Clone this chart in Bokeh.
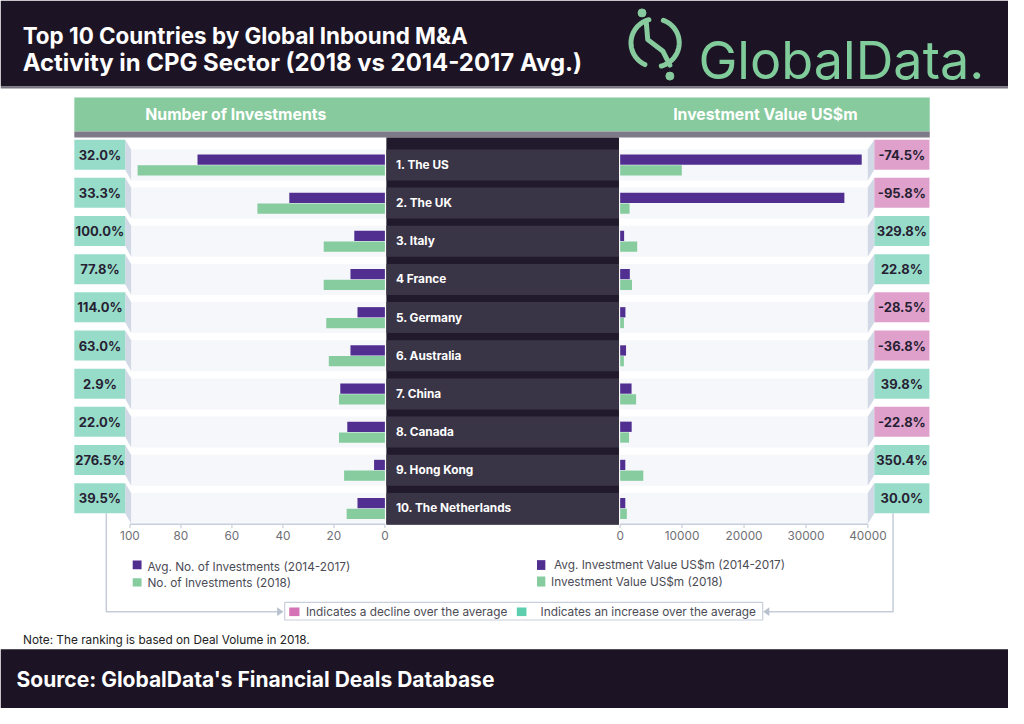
import numpy as np
from bokeh.plotting import figure
from bokeh.models import Range1d
from bokeh.core.properties import value
from bokeh.embed import file_html
from bokeh.resources import INLINE

# ---------------- data ----------------
countries = ["1.  The US", "2. The UK", "3.  Italy", "4  France", "5.  Germany",
             "6.  Australia", "7.  China", "8.  Canada", "9.  Hong Kong",
             "10.  The Netherlands"]
avg_count = [73.5, 37.5, 12.0, 13.5, 10.75, 13.5, 17.5, 14.75, 4.25, 10.75]
count_2018 = [97, 50, 24, 24, 23, 22, 18, 18, 16, 15]
avg_value = [39000, 36200, 640, 1560, 850, 950, 1840, 1860, 830, 830]
value_2018 = [9950, 1520, 2750, 1915, 608, 600, 2572, 1436, 3738, 1080]
count_change = ["32.0%", "33.3%", "100.0%", "77.8%", "114.0%", "63.0%", "2.9%",
                "22.0%", "276.5%", "39.5%"]
value_change = ["-74.5%", "-95.8%", "329.8%", "22.8%", "-28.5%", "-36.8%", "39.8%",
                "-22.8%", "350.4%", "30.0%"]
count_ticks = [100, 80, 60, 40, 20, 0]
value_ticks = [0, 10000, 20000, 30000, 40000]

title_lines = ["Top 10 Countries by Global Inbound M&A",
               "Activity in CPG Sector (2018 vs 2014-2017 Avg.)"]
left_header = "Number of Investments"
right_header = "Investment Value US$m"
legend_left = ["Avg. No. of Investments (2014-2017)", "No. of Investments (2018)"]
legend_right = ["Avg. Investment Value US$m (2014-2017)", "Investment Value US$m (2018)"]
legend_change = ["Indicates a decline over the average", "Indicates an increase over the average"]
note = "Note: The ranking is based on Deal Volume in 2018."
source = "Source: GlobalData's Financial Deals Database"

# ---------------- styles ----------------
DARK = "#1c1424"
PURPLE = "#502f90"
GREEN = "#86cc9f"
TEAL_BOX = "#97dcc9"
PINK_BOX = "#dfa1cb"
HEAD_GREEN = "#86ca9d"
FONT = value("Inter")

CW, CH = 1008, 708            # canvas
RW, RH = 1024, 724            # design space
K = CW / RW


def fs(px):
    return f"{px * K:.1f}px"


# layout (design space)
L0, LS = 390.5, 2.59          # left scale: zero position and px per unit
R0, RS = 629.5, 0.006292      # right scale
Y0, PITCH = 168.2, 39.03      # row centre and row pitch

p = figure(width=CW, height=CH, output_backend="svg", toolbar_location=None,
           x_range=Range1d(0, RW), y_range=Range1d(RH, 0),
           x_axis_type=None, y_axis_type=None, min_border=0)
p.xgrid.visible = False
p.ygrid.visible = False
p.outline_line_color = None
p.background_fill_color = "white"
p.border_fill_color = "white"
p.extra_x_ranges = {"L": Range1d(L0 / LS, (L0 - RW) / LS),
                    "R": Range1d(-R0 / RS, (RW - R0) / RS)}
p.extra_y_ranges = {"rows": Range1d((RH - Y0) / PITCH, -Y0 / PITCH)}

n = len(countries)
idx = list(range(n))
yc = [Y0 + PITCH * i for i in idx]

# ---------------- header ----------------
p.quad(left=[0], right=[RW], top=[0], bottom=[88], fill_color=DARK, line_color=None)
p.quad(left=[0], right=[RW], top=[88], bottom=[90], fill_color="#7a7582", line_color=None)
p.text(x=[22.5], y=[36], text=[title_lines[0]], text_font=FONT,
       text_font_size=fs(22.8), text_font_style="bold", text_color="white",
       text_baseline="alphabetic", text_align="left")
p.text(x=[22.5], y=[63.5], text=[title_lines[1]], text_font=FONT,
       text_font_size=fs(24.3), text_font_style="bold", text_color="white",
       text_baseline="alphabetic", text_align="left")

# logo
cx, cy, r = 665.0, 43.3, 24.5
a1 = np.linspace(np.radians(105), np.radians(245), 40)
a2 = np.linspace(np.radians(-75), np.radians(70), 40)
p.multi_line(xs=[list(cx + r * np.cos(a1)), list(cx + r * np.cos(a2))],
             ys=[list(cy - r * np.sin(a1)), list(cy - r * np.sin(a2))],
             line_color=HEAD_GREEN, line_width=5, line_cap="round")
p.line(x=[656, 657.5, 673, 680], y=[22, 40, 52, 66], line_color=HEAD_GREEN,
       line_width=5, line_cap="round", line_join="round")
p.scatter(x=[651.7, 680], y=[12.7, 77.3], size=8, color=HEAD_GREEN)
p.text(x=[709], y=[61], text=["GlobalData."], text_font=FONT, text_font_size=fs(53),
       text_color="#80cc9b", text_baseline="alphabetic")

# column header bar
p.quad(left=[75], right=[944], top=[99.3], bottom=[134], fill_color=HEAD_GREEN, line_color=None)
p.quad(left=[75], right=[944], top=[134], bottom=[140], fill_color="#7f7a88", line_color=None)
p.text(x=[239, 777], y=[117, 117], text=[left_header, right_header], text_font=FONT,
       text_font_size=fs(16), text_font_style="bold", text_color="white",
       text_align="center", text_baseline="middle")

# ---------------- row backgrounds ----------------
top_b = [c - 15.9 for c in yc]
bot_b = [c + 15.8 for c in yc]
p.quad(left=[132.7] * n, right=[390.5] * n, top=top_b, bottom=bot_b,
       fill_color="#f6f7fb", line_color=None)
p.quad(left=[629.5] * n, right=[881] * n, top=top_b, bottom=bot_b,
       fill_color="#f6f7fb", line_color=None)

# 3D side pieces of change boxes
box_t = [c - 25.9 for c in yc]
box_b = [c + 4.8 for c in yc]
p.patches(xs=[[126.7, 132.7, 132.7, 126.7] for _ in idx],
          ys=[[box_t[i], top_b[i], bot_b[i], box_b[i]] for i in idx],
          fill_color="#d2d9e6", line_color=None)
p.patches(xs=[[881, 887.7, 887.7, 881] for _ in idx],
          ys=[[top_b[i], box_t[i], box_b[i], bot_b[i]] for i in idx],
          fill_color="#d2d9e6", line_color=None)

# ---------------- bars ----------------
off, bh = 5.5 / PITCH, 10.5 / PITCH
p.hbar(y=[i - off for i in idx], height=bh, left=0, right=avg_count,
       fill_color=PURPLE, line_color=None, x_range_name="L", y_range_name="rows")
p.hbar(y=[i + off for i in idx], height=bh, left=0, right=count_2018,
       fill_color=GREEN, line_color=None, x_range_name="L", y_range_name="rows")
p.hbar(y=[i - off for i in idx], height=bh, left=0, right=avg_value,
       fill_color=PURPLE, line_color=None, x_range_name="R", y_range_name="rows")
p.hbar(y=[i + off for i in idx], height=bh, left=0, right=value_2018,
       fill_color=GREEN, line_color=None, x_range_name="R", y_range_name="rows")

# ---------------- centre panel ----------------
p.quad(left=[392], right=[628.3], top=[140], bottom=[536], fill_color="#211a2c", line_color=None)
p.quad(left=[392] * n, right=[628.3] * n, top=top_b, bottom=bot_b,
       fill_color="#3a3546", line_color=None)
p.text(x=[401.7] * n, y=yc, text=countries, text_font=FONT, text_font_size=fs(12),
       text_font_style="bold", text_color="white", text_baseline="middle")

# ---------------- change boxes ----------------
p.quad(left=[75] * n, right=[126.7] * n, top=box_t, bottom=box_b,
       fill_color=TEAL_BOX, line_color=None)
rcol = [PINK_BOX if s.startswith("-") else TEAL_BOX for s in value_change]
p.quad(left=[887.7] * n, right=[943.7] * n, top=box_t, bottom=box_b,
       fill_color=rcol, line_color=None)
mid_box = [c - 10.5 for c in yc]
p.text(x=[101] * n, y=mid_box, text=count_change, text_font=FONT, text_font_size=fs(13.2),
       text_font_style="bold", text_color="#271f33", text_align="center", text_baseline="middle")
p.text(x=[915.7] * n, y=mid_box, text=value_change, text_font=FONT, text_font_size=fs(13.2),
       text_font_style="bold", text_color="#271f33", text_align="center", text_baseline="middle")

# ---------------- axes ----------------
AX = "#c8cfdb"
p.segment(x0=[max(count_ticks)], x1=[0], y0=[535.5], y1=[535.5], line_color=AX,
          line_width=1.5, x_range_name="L")
p.segment(x0=count_ticks, x1=count_ticks, y0=[535.5] * 6, y1=[539.5] * 6,
          line_color=AX, line_width=1.2, x_range_name="L")
p.text(x=count_ticks, y=[547.5] * 6, text=[str(t) for t in count_ticks], text_font=FONT,
       text_font_size=fs(12), text_color="#6f6f76", text_align="center",
       text_baseline="middle", x_range_name="L")
p.segment(x0=[0], x1=[max(value_ticks)], y0=[535.5], y1=[535.5], line_color=AX,
          line_width=1.5, x_range_name="R")
p.segment(x0=value_ticks, x1=value_ticks, y0=[535.5] * 5, y1=[539.5] * 5,
          line_color=AX, line_width=1.2, x_range_name="R")
p.text(x=value_ticks, y=[547.5] * 5, text=[str(t) for t in value_ticks], text_font=FONT,
       text_font_size=fs(12), text_color="#6f6f76", text_align="center",
       text_baseline="middle", x_range_name="R")

# ---------------- legends ----------------
LG = "#4b4b55"
p.quad(left=[134.3, 134.3], right=[143.3, 143.3], top=[572.7, 590.7], bottom=[581.7, 599.3],
       fill_color=[PURPLE, GREEN], line_color=None)
p.text(x=[149.3, 149.3], y=[579.5, 595.3], text=legend_left, text_font=FONT,
       text_font_size=fs(12), text_color=LG, text_baseline="middle")
p.quad(left=[545, 545], right=[553.5, 553.5], top=[572.3, 589], bottom=[582.3, 599.3],
       fill_color=[PURPLE, GREEN], line_color=None)
p.text(x=[562.3, 559.3], y=[577.7, 594.7], text=legend_right, text_font=FONT,
       text_font_size=fs(12), text_color=LG, text_baseline="middle")

# brackets
BR = "#c5ccd8"
p.line(x=[107.5, 107.5, 282], y=[524.4, 625, 625], line_color=BR, line_width=1.5)
p.line(x=[906.7, 906.7, 780], y=[524.4, 625, 625], line_color=BR, line_width=1.5)
p.patches(xs=[[281, 287.5, 281], [781, 774.8, 781]], ys=[[620.5, 625, 629.5], [620.5, 625, 629.5]],
          fill_color="#b9c1cf", line_color=None)

p.quad(left=[288.7], right=[774.3], top=[615.5], bottom=[633.5], fill_color="white",
       line_color=AX, line_width=1.2)
p.quad(left=[293.3, 524.5], right=[303.7, 534.3], top=[620.7, 620.7], bottom=[629.5, 629.5],
       fill_color=["#d672b6", "#5ecfae"], line_color=None)
p.text(x=[310.3, 548.6], y=[625.3, 625.3], text=legend_change, text_font=FONT,
       text_font_size=fs(12), text_color=LG, text_baseline="middle")

# note
p.text(x=[22.9], y=[654], text=[note], text_font=FONT, text_font_size=fs(12),
       text_color="#222222", text_baseline="middle")

# footer
p.quad(left=[0], right=[RW], top=[663.3], bottom=[RH], fill_color=DARK, line_color=None)
p.text(x=[16.3], y=[694.3], text=[source], text_font=FONT, text_font_size=fs(21.3),
       text_font_style="bold", text_color="white", text_baseline="middle")

open("out.html", "w").write(file_html(p, INLINE))
